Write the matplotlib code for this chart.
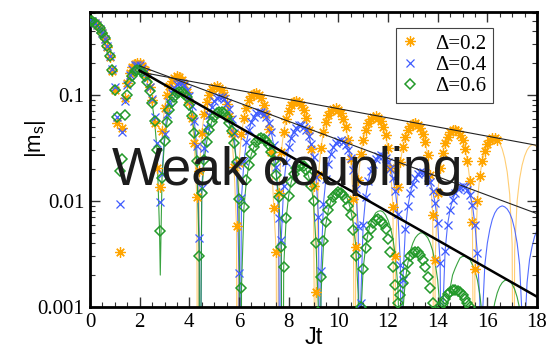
import numpy as np
import matplotlib.pyplot as plt
from matplotlib.ticker import MultipleLocator, LogLocator, FixedLocator, FixedFormatter, NullFormatter

DT = 0.1  # sampling step of the simulated data

# |m_s| for Delta = 0.2, t = 0.0 ... 16.4
m_orange = [0.5, 0.495, 0.48, 0.456, 0.423, 0.383, 0.336, 0.284, 0.228, 0.17, 0.112, 0.055, 0.0033,
            0.049, 0.093, 0.13, 0.16, 0.182, 0.196, 0.2015, 0.199, 0.189, 0.171, 0.148, 0.12, 0.089, 0.055, 0.0205, 0.0135,
            0.046, 0.075, 0.101, 0.121, 0.137, 0.146, 0.15, 0.147, 0.139, 0.126, 0.107, 0.086, 0.061, 0.035, 0.011,
            0.019, 0.044, 0.066, 0.085, 0.101, 0.113, 0.119, 0.121, 0.117, 0.111, 0.099, 0.082, 0.064, 0.044, 0.021, 0.0058,
            0.023, 0.043, 0.061, 0.076, 0.089, 0.098, 0.103, 0.104, 0.101, 0.093, 0.081, 0.066, 0.048, 0.029, 0.0086, 0.0033,
            0.012, 0.029, 0.045, 0.059, 0.071, 0.08, 0.085, 0.087, 0.085, 0.08, 0.072, 0.061, 0.047, 0.031, 0.014, 0.0014,
            0.0176, 0.0316, 0.0443, 0.0553, 0.0642, 0.0706, 0.0742, 0.0749, 0.0727, 0.0677, 0.06, 0.05, 0.038, 0.0247, 0.0104, 0.0037,
            0.0159, 0.0275, 0.038, 0.0471, 0.0544, 0.0595, 0.0624, 0.0629, 0.061, 0.0567, 0.0503, 0.0418, 0.0319, 0.0206, 0.0087, 0.003,
            0.0136, 0.0235, 0.0326, 0.0404, 0.0466, 0.051, 0.0535, 0.0539, 0.0523, 0.0486, 0.0431, 0.0359, 0.0273, 0.0177, 0.0074, 0.0028,
            0.0118, 0.0205, 0.0284, 0.0352, 0.0406, 0.0444, 0.0466, 0.0469, 0.0455, 0.0423, 0.0375, 0.0312, 0.0238, 0.0154, 0.0064, 0.0023,
            0.0101, 0.0174, 0.0241, 0.0298, 0.0343, 0.0375, 0.0392, 0.0394, 0.038]

# |m_s| for Delta = 0.4, t = 0.0 ... 15.6
m_blue = [0.5, 0.495, 0.48, 0.456, 0.424, 0.385, 0.338, 0.287, 0.232, 0.175, 0.118, 0.062, 0.0094,
          0.045, 0.088, 0.125, 0.155, 0.177, 0.19, 0.194, 0.191, 0.181, 0.165, 0.144, 0.119, 0.091, 0.062, 0.035, 0.0098,
          0.0178, 0.0425, 0.0658, 0.0863, 0.104, 0.117, 0.126, 0.13, 0.129, 0.123, 0.112, 0.097, 0.0785, 0.0567, 0.0328, 0.0045,
          0.0132, 0.0316, 0.0488, 0.0641, 0.077, 0.087, 0.0936, 0.0968, 0.0962, 0.092, 0.0843, 0.0734, 0.0597, 0.0437, 0.022, 0.0021,
          0.0107, 0.0237, 0.0358, 0.0466, 0.0557, 0.0627, 0.0675, 0.0698, 0.0695, 0.0667, 0.0615, 0.054, 0.0445, 0.0334, 0.0211, 0.0069,
          0.0043, 0.014, 0.0235, 0.032, 0.0394, 0.0452, 0.0493, 0.0516, 0.0519, 0.0502, 0.0466, 0.0413, 0.0344, 0.0262, 0.0169, 0.0071,
          0.0022, 0.0094, 0.0163, 0.0225, 0.0279, 0.0322, 0.0353, 0.0371, 0.0375, 0.0364, 0.0339, 0.0302, 0.0253, 0.0195, 0.0129, 0.0058,
          0.0011, 0.006, 0.0109, 0.0153, 0.0192, 0.0224, 0.0248, 0.0264, 0.027, 0.0267, 0.0254, 0.0232, 0.0202, 0.0165, 0.0123, 0.0075, 0.0025,
          0.0018, 0.0055, 0.0089, 0.0119, 0.0146, 0.0166, 0.0181, 0.0189, 0.0189, 0.0183, 0.017, 0.015, 0.0125, 0.0095, 0.0062, 0.0026,
          0.0008, 0.0034, 0.006, 0.0083, 0.0102, 0.0119, 0.013, 0.0137, 0.0139, 0.0136, 0.0127, 0.0114, 0.0092, 0.006, 0.0032]

# |m_s| for Delta = 0.6, t = 0.0 ... 15.3
m_green = [0.5, 0.495, 0.48, 0.457, 0.425, 0.387, 0.342, 0.292, 0.235, 0.172, 0.112, 0.062, 0.0194,
           0.025, 0.065, 0.1, 0.13, 0.152, 0.167, 0.174, 0.173, 0.166, 0.152, 0.133, 0.11, 0.084, 0.057, 0.03, 0.0052,
           0.0165, 0.0365, 0.0552, 0.0718, 0.0859, 0.0968, 0.104, 0.1077, 0.1072, 0.103, 0.095, 0.08, 0.063, 0.044, 0.024, 0.003,
           0.0118, 0.0245, 0.0364, 0.0469, 0.0558, 0.0627, 0.0674, 0.0698, 0.0696, 0.067, 0.0621, 0.0549, 0.0459, 0.0352, 0.0233, 0.0105,
           0.0015, 0.0087, 0.0157, 0.0221, 0.0277, 0.0323, 0.0358, 0.0381, 0.039, 0.0385, 0.0367, 0.0335, 0.0292, 0.0239, 0.0177, 0.0109, 0.0037,
           0.0024, 0.0069, 0.0112, 0.015, 0.018, 0.0203, 0.0216, 0.022, 0.0213, 0.0197, 0.0172, 0.0139, 0.01, 0.004, 0.0009,
           0.0019, 0.0042, 0.0063, 0.0082, 0.0098, 0.011, 0.0117, 0.0121, 0.012, 0.0114, 0.0104, 0.009, 0.0073, 0.0053, 0.003, 0.0007,
           0.001, 0.0023, 0.0036, 0.0046, 0.0055, 0.0062, 0.0066, 0.0067, 0.0065, 0.0061, 0.0054, 0.0044, 0.0033, 0.0024, 0.0016,
           0.0011, 0.0013, 0.0017, 0.0021, 0.0026, 0.003, 0.0032, 0.0033, 0.0033, 0.0031, 0.0028, 0.0024, 0.0019, 0.0015, 0.0011, 0.0007,
           0.0009, 0.001, 0.0011, 0.0012, 0.00133, 0.0014, 0.00145, 0.00145, 0.00143, 0.00138, 0.0013, 0.0012, 0.0011, 0.001]

# thin curves: where they start on the data, and their continuation after the symbols end
orange_line_from, orange_line_to = 2.9, 16.4
orange_tail = [0.0351, 0.0309, 0.0253, 0.0188, 0.0116, 0.0039, 0.0034, 0.01, 0.0162, 0.0218,
               0.0265, 0.0302, 0.0327, 0.0339, 0.0338, 0.0323]
orange_dip_t = [4.34, 5.92, 7.53, 9.08, 10.67, 12.27, 13.87, 15.47, 17.05]
orange_dip_m = [1e-5, 1e-5, 1e-5, 1e-5, 1e-5, 1e-5, 1e-5, 1e-5, 1e-5]

blue_line_from, blue_line_to = 2.9, 15.6
blue_tail = [0.0011, 0.0008, 0.0025, 0.004, 0.0054, 0.0067, 0.0077, 0.0084, 0.0088, 0.009, 0.0088, 0.0084,
             0.0077, 0.0067, 0.0054, 0.004, 0.0025, 0.0008, 0.00057, 0.0017, 0.0028, 0.0037, 0.0046, 0.0053]
blue_dip_t = [4.42, 6.01, 7.66, 9.28, 10.89, 12.56, 14.18, 15.74, 17.45]
blue_dip_m = [1e-5, 1e-5, 1e-5, 1e-5, 1e-5, 1e-5, 1e-5, 1e-5, 1e-5]

green_line_from, green_line_to = 2.5, 9.2
green_tail = [0.0013, 0.0038, 0.0061, 0.0082, 0.01, 0.0115, 0.0124, 0.0129, 0.0129, 0.0124, 0.0115, 0.01, 0.0082, 0.0061, 0.0038, 0.0013,
              0.00077, 0.0023, 0.0037, 0.005, 0.0061, 0.007, 0.0077, 0.008, 0.0081, 0.0079, 0.0074, 0.0066, 0.0056, 0.0044, 0.003, 0.0015,
              0.0002, 0.00092, 0.0018, 0.0026, 0.0034, 0.004, 0.0045, 0.0048, 0.005, 0.005, 0.0048, 0.0045, 0.004, 0.0034, 0.0026, 0.0018, 0.00092,
              0.0002, 0.00054, 0.00105, 0.0015, 0.002, 0.0023, 0.0026, 0.0029, 0.003, 0.003, 0.0029, 0.0028, 0.0025, 0.0022, 0.0018, 0.0013, 0.0008, 0.00027,
              0.00017, 0.0005, 0.00082, 0.0011, 0.00136, 0.00156, 0.0017, 0.00178, 0.0018, 0.00175, 0.00164, 0.00147, 0.00124, 0.00097, 0.00067,
              0.00034, 0.0001, 0.00021, 0.00041, 0.0006, 0.00076]
green_dip_t = [2.83, 4.41, 6.09, 7.76, 9.23, 10.85, 12.5, 14.2, 15.95, 17.6]
green_dip_m = [0.002, 1e-5, 1e-5, 1e-5, 1e-5, 1e-5, 1e-5, 1e-5, 1e-5, 1e-5]

# straight decay lines (exponential envelopes)
env_t = [2.0, 18.0]
env_orange = [0.165, 0.0335]
env_blue = [0.188, 0.0076]
env_green = [0.17, 0.00125]

labels = ['\u0394=0.2', '\u0394=0.4', '\u0394=0.6']
c_orange, c_blue, c_green = '#ffa500', '#3f5cff', '#23992a'


def times(m):
    return np.round(np.arange(len(m)) * DT, 2)


def line_data(m, t_from, t_to, tail, dip_t, dip_m):
    t = times(m)
    keep = (t >= t_from - 1e-6) & (t <= t_to + 1e-6)
    t_tail = np.round(t_to + DT * (np.arange(len(tail)) + 1), 2)
    tt = np.concatenate([t[keep], t_tail, dip_t])
    mm = np.concatenate([np.asarray(m)[keep], tail, dip_m])
    order = np.argsort(tt)
    return tt[order], mm[order]


fig = plt.figure(figsize=(5.49, 3.52), dpi=100)
ax = fig.add_axes([90 / 549, 1 - 307 / 352, 447 / 549, 295 / 352])

# thin curves
tl, ml = line_data(m_orange, orange_line_from, orange_line_to, orange_tail, orange_dip_t, orange_dip_m)
ax.plot(tl, ml, color=c_orange, lw=0.8, alpha=0.55, zorder=1)
tl, ml = line_data(m_blue, blue_line_from, blue_line_to, blue_tail, blue_dip_t, blue_dip_m)
ax.plot(tl, ml, color=c_blue, lw=0.8, alpha=0.9, zorder=1)
tl, ml = line_data(m_green, green_line_from, green_line_to, green_tail, green_dip_t, green_dip_m)
ax.plot(tl, ml, color=c_green, lw=0.8, alpha=0.9, zorder=1)

# symbols
h1, = ax.plot(times(m_orange), m_orange, ls='none', marker=(8, 2, 0), ms=7.5, mew=0.9,
              color=c_orange, label=labels[0], zorder=2)
h2, = ax.plot(times(m_blue), m_blue, ls='none', marker='x', ms=6, mew=0.9,
              color=c_blue, label=labels[1], zorder=3)
h3, = ax.plot(times(m_green), m_green, ls='none', marker='D', ms=5.5, mew=1.1, mfc='none',
              color=c_green, label=labels[2], zorder=4)

# envelopes
ax.plot(env_t, env_orange, color='#222222', lw=0.8, zorder=5)
ax.plot(env_t, env_blue, color='#222222', lw=0.8, zorder=5)
ax.plot(env_t, env_green, color='black', lw=1.8, zorder=5)

ax.text(0.89, 0.0141, 'Weak coupling', fontsize=38.5, family='Liberation Sans',
        color='#1c1c1c', ha='left', va='baseline', zorder=6)

ax.set_yscale('log')
ax.set_xlim(0, 18)
ax.set_ylim(0.001, 0.607)

ax.xaxis.set_major_locator(MultipleLocator(2))
ax.xaxis.set_minor_locator(MultipleLocator(0.5))
ax.yaxis.set_major_locator(FixedLocator([0.001, 0.01, 0.1]))
ax.yaxis.set_major_formatter(FixedFormatter(['0.001', '0.01', '0.1']))
ax.yaxis.set_minor_locator(LogLocator(base=10, subs=np.arange(2, 10)))
ax.yaxis.set_minor_formatter(NullFormatter())

ax.tick_params(which='both', direction='in', top=True, right=True, colors='#333333',
               labelcolor='black', labelsize=15, labelfontfamily='Liberation Serif')
ax.tick_params(which='major', length=7, width=1.0, pad=4)
ax.tick_params(which='minor', length=3.5, width=0.8)
for s in ax.spines.values():
    s.set_linewidth(2.0)

ax.set_xlabel('Jt', fontsize=17, family='Liberation Sans')
ax.xaxis.set_label_coords(0.5, -0.069)
ax.set_ylabel(r'$\mathregular{|m_s|}$', fontsize=16, family='Liberation Sans')
ax.yaxis.set_label_coords(-0.094, 0.57)

leg = ax.legend(handles=[h1, h2, h3], loc='upper right', bbox_to_anchor=(0.901, 0.946),
                borderaxespad=0, fancybox=False, framealpha=1, edgecolor='#444444',
                prop={'family': 'Liberation Serif', 'size': 15}, handlelength=0.8,
                handletextpad=0.8, labelspacing=0.08, borderpad=0.3)
leg.get_frame().set_linewidth(0.8)

fig.savefig('out.png', dpi=100)
